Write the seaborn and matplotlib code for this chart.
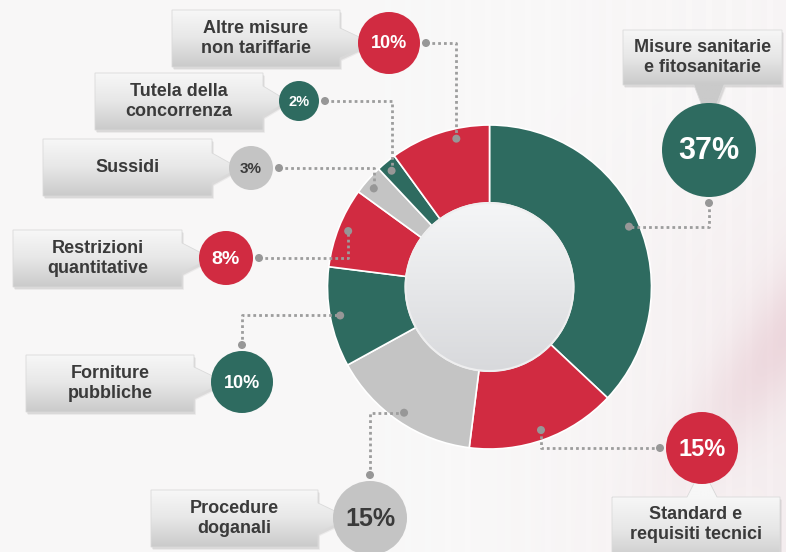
import numpy as np
import matplotlib
matplotlib.use("Agg")
import matplotlib.pyplot as plt
from matplotlib.patches import Circle, Polygon
from matplotlib.colors import LinearSegmentedColormap
import seaborn as sns

# slices, clockwise from 12 o'clock
labels = ["Misure sanitarie\ne fitosanitarie", "Standard e\nrequisiti tecnici", "Procedure\ndoganali",
          "Forniture\npubbliche", "Restrizioni\nquantitative", "Sussidi",
          "Tutela della\nconcorrenza", "Altre misure\nnon tariffarie"]
shares = [37, 15, 15, 10, 8, 3, 2, 10]
groups = ["green", "red", "gray", "green", "red", "gray", "green", "red"]

palette = {"green": "#2e6b60", "red": "#d12b41", "gray": "#c4c4c4"}

# callout layout in pixels (y down): label box, badge centre, badge radius, badge font size,
# side the leader line leaves the badge, where along the slice the line lands
callouts = [
    dict(box=(623, 30, 782, 85), circ=(709, 150), r=47, fs=22, out="down", frac=0.5),
    dict(box=(612, 497, 780, 562), circ=(702, 448), r=36, fs=17, out="left", frac=0.5),
    dict(box=(151, 490, 318, 547), circ=(370, 518), r=37, fs=18, out="up", frac=0.5),
    dict(box=(26, 355, 194, 412), circ=(242, 382), r=31, fs=13, out="up", frac=0.5),
    dict(box=(13, 230, 182, 287), circ=(226, 258), r=27, fs=14, out="right", frac=0.5),
    dict(box=(43, 139, 212, 196), circ=(251, 168), r=22, fs=11, out="right", frac=0.41),
    dict(box=(95, 73, 263, 130), circ=(299, 101), r=20, fs=10.5, out="right", frac=0.43),
    dict(box=(172, 10, 340, 67), circ=(389, 43), r=31, fs=13, out="right", frac=0.65),
]

W, H = 786, 552
CENTER = (489.5, 287)
R_OUT, R_IN = 162, 84

sns.set_theme(style="white")
plt.rcParams["font.family"] = ["Liberation Sans", "DejaVu Sans"]

fig = plt.figure(figsize=(W / 100, H / 100), dpi=100)
ax = fig.add_axes([0, 0, 1, 1])

# background: off-white, pinkish towards the right, faint stripes, a darker pink streak
yy, xx = np.mgrid[0:H, 0:W]
base = np.array([0.975, 0.972, 0.972])
bg = np.ones((H, W, 3)) * base
pink = np.array([0.89, 0.74, 0.78])
tint = 0.18 * np.clip((xx - 430) / 356.0, 0, 1) ** 1.5 * np.clip(yy / 300.0, 0.3, 1)
bg = bg * (1 - tint[..., None]) + pink * tint[..., None]
stripes = 0.007 * (np.sin(xx / 3.2) > 0.6) * np.clip((xx - 350) / 400, 0, 1)
bg = bg + stripes[..., None]
u = (xx - 790) * 0.8 + (yy - 330) * 0.6
v = -(xx - 790) * 0.6 + (yy - 330) * 0.8
blush = np.exp(-((u / 40.0) ** 2 + (v / 150.0) ** 2))
bg = bg * (1 - 0.45 * blush[..., None]) + pink * 0.45 * blush[..., None]
ax.imshow(np.clip(bg, 0, 1), extent=(0, W, H, 0), origin="upper", aspect="auto", zorder=0)

# donut (y axis points down, so counterclock in data = clockwise on screen)
colors = [palette[g] for g in groups]
wedges, _ = ax.pie(shares, colors=colors, startangle=-90, counterclock=True,
                   center=CENTER, radius=R_OUT,
                   wedgeprops=dict(width=R_OUT - R_IN, edgecolor="white", linewidth=1.2))
for w in wedges:
    w.set_zorder(2)

hole_cmap = LinearSegmentedColormap.from_list("hole", ["#f5f6f7", "#d8d9dc"])
hole = Circle(CENTER, R_IN, fc="none", ec="#eeeeef", lw=1.5, zorder=3.1)
ax.add_patch(hole)
im = ax.imshow(np.linspace(0, 1, 128).reshape(-1, 1), cmap=hole_cmap,
               extent=(CENTER[0] - R_IN, CENTER[0] + R_IN, CENTER[1] + R_IN, CENTER[1] - R_IN),
               origin="upper", aspect="auto", zorder=3)
im.set_clip_path(hole)

box_cmap = LinearSegmentedColormap.from_list("box", ["#f7f7f7", "#e7e7e7", "#cacaca"])


def draw_box(box, circ, r):
    x0, y0, x1, y1 = box
    cx, cy = circ
    k = 15
    if cx > x1:
        pts = [(x0, y0), (x1, y0), (x1, cy - k), (cx - r * 0.55, cy), (x1, cy + k), (x1, y1), (x0, y1)]
    elif cy > y1:
        pts = [(x0, y0), (x1, y0), (x1, y1), (cx + k, y1), (cx, cy - r * 0.55), (cx - k, y1), (x0, y1)]
    else:
        pts = [(x0, y0), (cx - k, y0), (cx, cy + r * 0.55), (cx + k, y0), (x1, y0), (x1, y1), (x0, y1)]
    for off, a in [(3, 0.05), (2, 0.07)]:
        ax.add_patch(Polygon([(x + off * 0.6, y + off) for x, y in pts], closed=True,
                             fc="black", ec="none", alpha=a, zorder=4))
    poly = Polygon(pts, closed=True, fc="none", ec="#dadada", lw=0.6, zorder=4.6)
    ax.add_patch(poly)
    xs = [p[0] for p in pts]
    ys = [p[1] for p in pts]
    top, bot = min(ys), max(ys)
    rows = np.linspace(top, bot, 96)
    grad = np.clip((rows - y0) / (y1 - y0), 0, 1).reshape(-1, 1)
    g = ax.imshow(grad, cmap=box_cmap, vmin=0, vmax=1,
                  extent=(min(xs), max(xs), bot, top), origin="upper", aspect="auto", zorder=4.5)
    g.set_clip_path(poly)


dot_col = "#979797"
line_kw = dict(color="#9d9d9d", lw=2.0, linestyle=(0, (1, 1.1)), dash_capstyle="butt", zorder=5)

for i, (lab, val, grp, co) in enumerate(zip(labels, shares, groups, callouts)):
    w = wedges[i]
    ang = np.deg2rad(w.theta1 + co["frac"] * (w.theta2 - w.theta1))
    ax_, ay_ = CENTER[0] + 152 * np.cos(ang), CENTER[1] + 152 * np.sin(ang)

    cx, cy = co["circ"]
    r = co["r"]
    gap = r + 6
    dx, dy = {"right": (gap, 0), "left": (-gap, 0), "up": (0, -gap), "down": (0, gap)}[co["out"]]
    px, py = cx + dx, cy + dy
    if co["out"] in ("right", "left"):
        ex, ey = ax_, py
    else:
        ex, ey = px, ay_
    ax.plot([px, ex, ax_], [py, ey, ay_], **line_kw)
    ax.add_patch(Circle((px, py), 4, fc=dot_col, ec="none", zorder=6))
    ax.add_patch(Circle((ax_, ay_), 4, fc=dot_col, ec="none", zorder=6))

    draw_box(co["box"], co["circ"], r)
    x0, y0, x1, y1 = co["box"]
    ty = (y0 + min(y1, H)) / 2
    ax.text((x0 + x1) / 2, ty, lab, ha="center", va="center", fontsize=13,
            fontweight="bold", color="#3a3a3a", linespacing=1.22, zorder=7)

    ax.add_patch(Circle((cx, cy), r, fc=palette[grp], ec="none", zorder=6))
    tc = "#3a3a3a" if grp == "gray" else "white"
    ax.text(cx, cy + 1, f"{val}%", ha="center", va="center", fontsize=co["fs"],
            fontweight="bold", color=tc, zorder=7)

ax.set_xlim(0, W)
ax.set_ylim(H, 0)
ax.set_aspect("auto")
ax.axis("off")
fig.savefig("out.png", dpi=100)
